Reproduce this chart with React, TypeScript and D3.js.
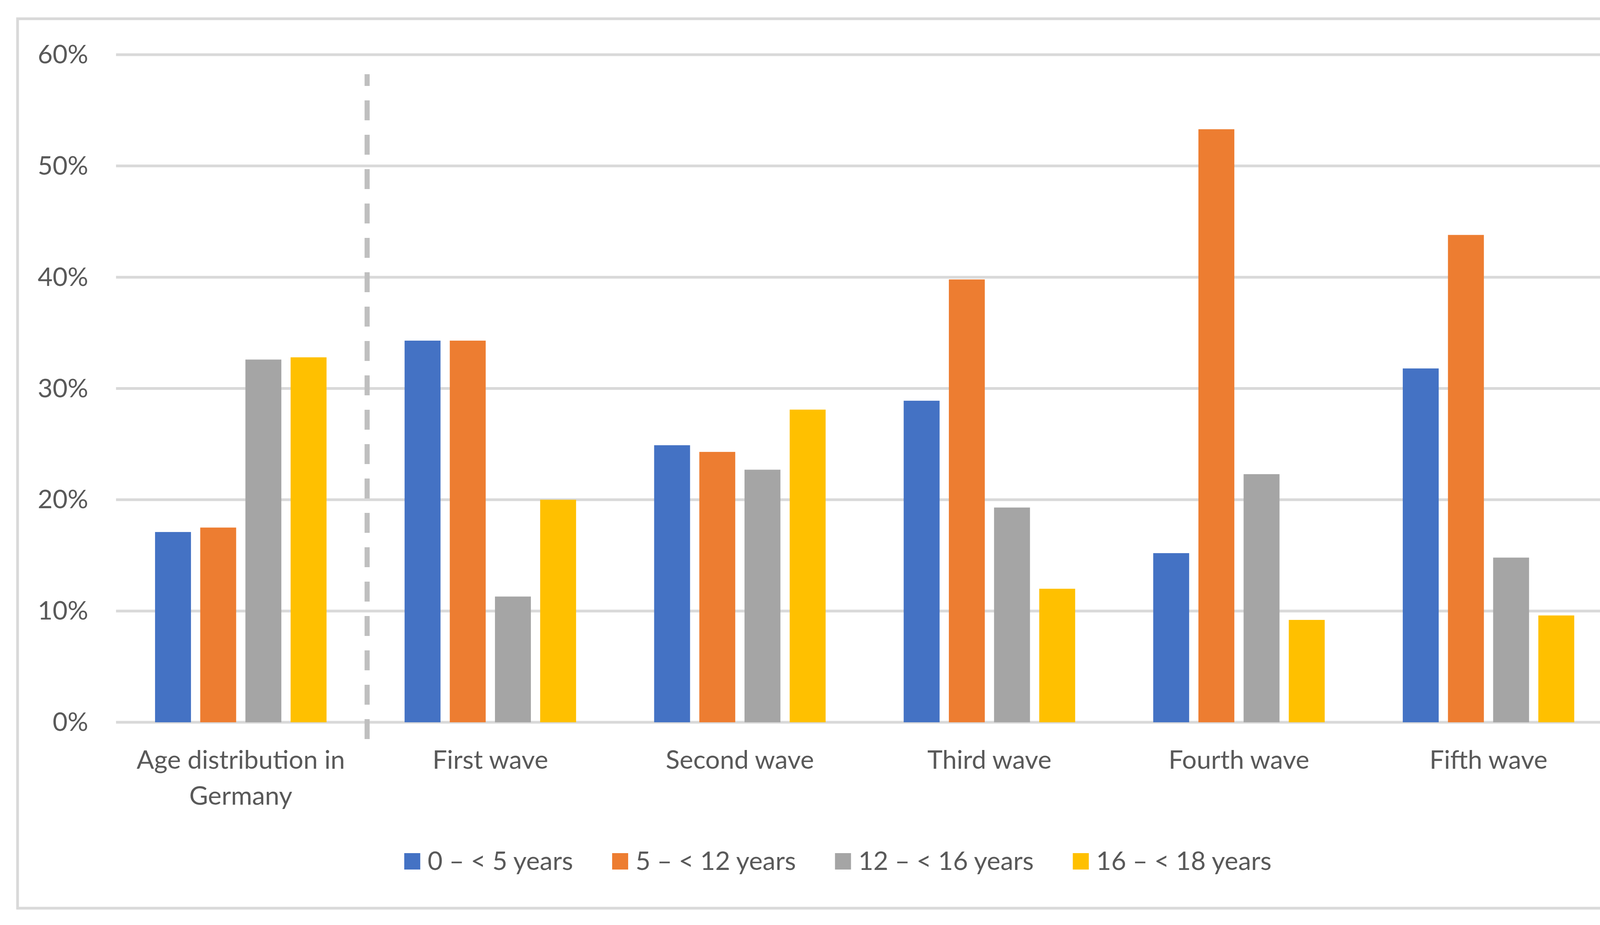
import React, { useRef, useEffect } from 'react';
import * as d3 from 'd3';

const categories = ['Age distribution in Germany', 'First wave', 'Second wave', 'Third wave', 'Fourth wave', 'Fifth wave'];
const categoryLines = [['Age distribution in', 'Germany'], ['First wave'], ['Second wave'], ['Third wave'], ['Fourth wave'], ['Fifth wave']];
const seriesNames = ['0 – < 5 years', '5 – < 12 years', '12 – < 16 years', '16 – < 18 years'];
const seriesColors = ['#4472c4', '#ed7d31', '#a5a5a5', '#ffc000'];

// share per age group, in %
const age0to5 = [17.1, 34.3, 24.9, 28.9, 15.2, 31.8];
const age5to12 = [17.5, 34.3, 24.3, 39.8, 53.3, 43.8];
const age12to16 = [32.6, 11.3, 22.7, 19.3, 22.3, 14.8];
const age16to18 = [32.8, 20.0, 28.1, 12.0, 9.2, 9.6];

const yTicks = [0, 10, 20, 30, 40, 50, 60];

const W = 4288;
const H = 2368;
const FONT = 'Lato, "Open Sans", sans-serif';
const TEXT = '#595959';

export default function App() {
  const svgRef = useRef<SVGSVGElement>(null);

  useEffect(() => {
    if (!svgRef.current) return;
    const svg = d3.select(svgRef.current);
    svg.selectAll('*').remove();

    const series = [age0to5, age5to12, age12to16, age16to18];

    const plot = { left: 297, right: 4130, top: 140, bottom: 1849 };

    svg.append('rect').attr('width', W).attr('height', H).attr('fill', '#fff');

    // outer chart border
    svg.append('rect')
      .attr('x', 45).attr('y', 48)
      .attr('width', 4175).attr('height', 2277)
      .attr('fill', 'none')
      .attr('stroke', '#d9d9d9')
      .attr('stroke-width', 7);

    const x0 = d3.scaleBand<string>()
      .domain(categories)
      .range([plot.left, plot.right])
      .paddingInner(0).paddingOuter(0);

    const groupWidth = 439;
    const x1 = d3.scaleBand<string>()
      .domain(seriesNames)
      .range([0, groupWidth])
      .paddingInner(0.205).paddingOuter(0);

    const y = d3.scaleLinear().domain([0, 60]).range([plot.bottom, plot.top]);

    // gridlines
    svg.append('g').selectAll('line')
      .data(yTicks)
      .enter().append('line')
      .attr('x1', plot.left).attr('x2', plot.right)
      .attr('y1', d => y(d)).attr('y2', d => y(d))
      .attr('stroke', '#d9d9d9')
      .attr('stroke-width', 7);

    // y tick labels
    svg.append('g').selectAll('text')
      .data(yTicks)
      .enter().append('text')
      .attr('x', 226)
      .attr('y', d => y(d) + 22)
      .attr('text-anchor', 'end')
      .style('font-family', FONT)
      .style('font-size', '66px')
      .style('fill', TEXT)
      .text(d => `${d}%`);

    // bars
    const groups = svg.append('g').selectAll('g')
      .data(categories)
      .enter().append('g')
      .attr('transform', c => `translate(${(x0(c) ?? 0) + (x0.bandwidth() - groupWidth) / 2},0)`);

    groups.selectAll('rect')
      .data((_, ci) => series.map((vals, si) => ({ name: seriesNames[si], value: vals[ci], color: seriesColors[si] })))
      .enter().append('rect')
      .attr('x', d => x1(d.name) ?? 0)
      .attr('width', x1.bandwidth())
      .attr('y', d => y(d.value))
      .attr('height', d => plot.bottom - y(d.value))
      .attr('fill', d => d.color);

    // dashed separator between reference distribution and waves
    const sepX = (x0(categories[1]) ?? 0) + 4;
    svg.append('line')
      .attr('x1', sepX).attr('x2', sepX)
      .attr('y1', 1892).attr('y2', 190)
      .attr('stroke', '#bfbfbf')
      .attr('stroke-width', 13)
      .attr('stroke-dasharray', '51 37');

    // category labels
    const catLabels = svg.append('g').selectAll('text')
      .data(categories)
      .enter().append('text')
      .attr('x', c => (x0(c) ?? 0) + x0.bandwidth() / 2)
      .attr('y', 1968)
      .attr('text-anchor', 'middle')
      .style('font-family', FONT)
      .style('font-size', '66px')
      .style('fill', TEXT);

    catLabels.each(function (_, i) {
      const t = d3.select(this);
      const cx = t.attr('x');
      categoryLines[i].forEach((line, li) => {
        t.append('tspan').attr('x', cx).attr('dy', li === 0 ? 0 : 92).text(line);
      });
    });

    // legend
    const legend = svg.append('g');
    const items = legend.selectAll('g')
      .data(seriesNames)
      .enter().append('g');
    items.append('rect')
      .attr('width', 41).attr('height', 42)
      .attr('y', 2184)
      .attr('fill', (_, i) => seriesColors[i]);
    items.append('text')
      .attr('x', 60)
      .attr('y', 2227)
      .style('font-family', FONT)
      .style('font-size', '66px')
      .style('fill', TEXT)
      .text(d => d);

    let cursor = 0;
    const offsets: number[] = [];
    items.each(function () {
      const txt = d3.select(this).select('text').node() as SVGTextElement;
      offsets.push(cursor);
      cursor += 60 + txt.getComputedTextLength() + 100;
    });
    const total = cursor - 100;
    const start = 2145 - total / 2;
    items.attr('transform', (_, i) => `translate(${start + offsets[i]},0)`);
  }, []);

  return (
    <div style={{ position: 'absolute', left: 0, top: 0 }}>
      <svg ref={svgRef} width={W} height={H} style={{ display: 'block' }} />
    </div>
  );
}
